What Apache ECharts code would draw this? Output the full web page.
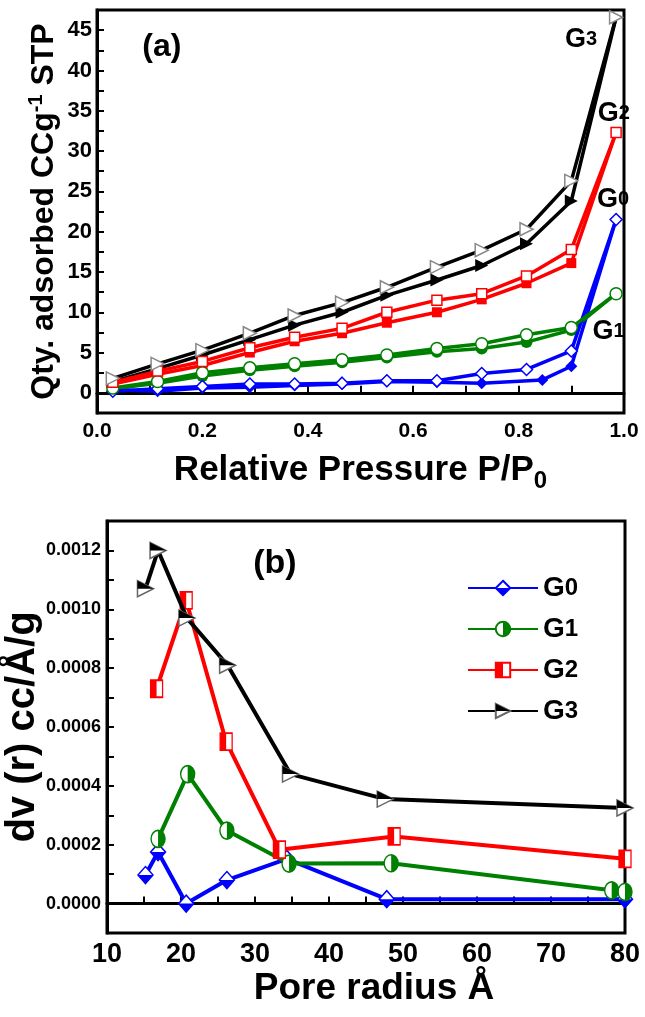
<!DOCTYPE html>
<html><head><meta charset="utf-8">
<script src="https://cdn.jsdelivr.net/npm/echarts@6/dist/echarts.min.js"></script>
<style>html,body{margin:0;padding:0;background:#fff}#c{width:645px;height:1017px}</style>
</head><body><div id="c"></div>
<script>
// ---------- (a) isotherms ----------
const pressure   = [0.03,0.115,0.2,0.29,0.375,0.465,0.55,0.645,0.73,0.815,0.9,0.985];
const pressureG0 = [0.03,0.115,0.2,0.29,0.375,0.465,0.55,0.645,0.73,0.845,0.9,0.985];
const g0Ads = [0.4,0.2,0.6,0.7,0.9,1.1,1.4,1.3,1.2,1.6,3.3,21.5];
const g0Des = [0.2,0.5,0.8,1.1,1.1,1.2,1.5,1.5,2.4,2.9,5.2,21.5];
const g1Ads = [0.5,1.2,2.1,2.8,3.3,3.8,4.4,5.1,5.5,6.3,7.8,12.3];
const g1Des = [0.6,1.4,2.5,3.1,3.6,4.1,4.7,5.5,6.1,7.2,8.1,12.3];
const g2Ads = [1.1,2.3,3.4,5.0,6.4,7.4,8.7,10.0,11.6,13.6,16.1,32.3];
const g2Des = [1.3,2.7,3.9,5.6,6.9,8.0,10.0,11.5,12.3,14.5,17.8,32.3];
const g3Ads = [1.4,3.0,4.7,6.6,8.4,10.0,12.1,14.0,15.8,18.5,23.8,46.6];
const g3Des = [1.8,3.6,5.3,7.4,9.6,11.2,13.1,15.6,17.7,20.3,26.3,46.6];

// ---------- (b) pore size distribution ----------
const g0Radius = [15.2,16.9,20.7,26.2,34.3,47.8,80];
const g0Dv     = [0.000097,0.000175,0.0,0.00008,0.000152,0.000015,0.000015];
const g1Radius = [16.9,20.9,26.2,34.6,48.4,78.2,80];
const g1Dv     = [0.00022,0.00044,0.000248,0.000136,0.000137,0.000045,0.00004];
const g2Radius = [16.7,20.7,26.1,33.3,48.8,80];
const g2Dv     = [0.00073,0.00103,0.00055,0.000183,0.000228,0.000152];
const g3Radius = [15.2,16.9,20.8,26.3,34.8,47.6,80];
const g3Dv     = [0.00107,0.0012,0.00097,0.00081,0.00044,0.000355,0.000325];

const seriesNames = ['G0','G1','G2','G3'];
const topLabels = [
  {t:'(a)', x:0.123, y:42.9},
  {t:'G3', x:0.888, y:43.8},
  {t:'G2', x:0.95,  y:34.7},
  {t:'G0', x:0.949, y:24.0},
  {t:'G1', x:0.94,  y:7.6}
];

const FONT = '"Liberation Sans", Arial, sans-serif';
const COLORS = ['#0000ff','#008000','#ff0000','#000000'];
const zip = (xs, ys) => xs.map((x,i)=>[x, ys[i]]);

const TRI = 'path://M0,0L2,1L0,2Z';
const DIA = 'path://M1,0L2,1L1,2L0,1Z';
const SQR = 'path://M0,0L2,0L2,2L0,2Z';
const CIR = 'path://M1,0C1.5523,0 2,0.4477 2,1C2,1.5523 1.5523,2 1,2C0.4477,2 0,1.5523 0,1C0,0.4477 0.4477,0 1,0Z';
// half-filled shapes (degenerate segment keeps the full bounding box)
const DIA_H = 'path://M1,0L1,0M0,1L2,1L1,2Z';
const CIR_H = 'path://M0,1L0,1M1,0C1.5523,0 2,0.4477 2,1C2,1.5523 1.5523,2 1,2Z';
const SQR_H = 'path://M2,1L2,1M0,0L1,0L1,2L0,2Z';
const TRI_H = 'path://M0,2L0,2M0,0L2,1L0,1Z';

const topSym = ['diamond','circle','rect',TRI];
const topSize = [12,12,10,13];
const topData = [
  [zip(pressureG0,g0Ads), zip(pressure,g0Des)],
  [zip(pressure,g1Ads), zip(pressure,g1Des)],
  [zip(pressure,g2Ads), zip(pressure,g2Des)],
  [zip(pressure,g3Ads), zip(pressure,g3Des)]
];
const botData = [zip(g0Radius,g0Dv), zip(g1Radius,g1Dv), zip(g2Radius,g2Dv), zip(g3Radius,g3Dv)];
const botSym = [DIA, CIR, SQR, TRI];
const botHalf = [DIA_H, CIR_H, SQR_H, TRI_H];
const botSize = [[15,17],[14,17],[12,17],[16,16]];
const openBorder = ['#0000ff','#008000','#ff0000','#666666'];

const series = [];
topData.forEach((pair,k)=>{
  series.push({
    name: seriesNames[k]+' adsorption', type:'line', xAxisIndex:0, yAxisIndex:0,
    data: pair[0], symbol: topSym[k], symbolSize: topSize[k], z: 3,
    lineStyle:{color:COLORS[k], width:3.5}, itemStyle:{color:COLORS[k]}
  });
  series.push({
    name: seriesNames[k]+' desorption', type:'line', xAxisIndex:0, yAxisIndex:0,
    data: pair[1], symbol: topSym[k], symbolSize: topSize[k], z: 4,
    lineStyle:{color:COLORS[k], width:3.5},
    itemStyle:{color:'#fff', borderColor: k===3 ? '#888' : COLORS[k], borderWidth:1.5}
  });
});
botData.forEach((d,k)=>{
  series.push({
    name: seriesNames[k], type:'line', xAxisIndex:1, yAxisIndex:1,
    data: d, symbol: botSym[k], symbolSize: botSize[k], z: 3 + k,
    lineStyle:{color:COLORS[k], width:4},
    itemStyle:{color:'#fff', borderColor: openBorder[k], borderWidth:1.5}
  });
  series.push({
    name: seriesNames[k]+'h', type:'line', xAxisIndex:1, yAxisIndex:1,
    data: d, symbol: botHalf[k], symbolSize: botSize[k], z: 3 + k, silent:true,
    lineStyle:{color:COLORS[k], width:4, opacity:0},
    itemStyle:{color:COLORS[k]}
  });
});

const tickStyle = {show:true, inside:true, length:7, lineStyle:{color:'#000', width:2}};
const axisLine = {show:true, lineStyle:{color:'#000', width:3}};
const lblBase = {color:'#000', fontFamily:FONT, fontWeight:'bold'};

const legendRich = {
  g:{fontSize:28, fontFamily:FONT, fontWeight:'bold', color:'#000'},
  d:{fontSize:24, fontFamily:FONT, fontWeight:'bold', color:'#000'}
};
const legendRichClear = {
  g:{fontSize:28, fontFamily:FONT, fontWeight:'bold', color:'rgba(0,0,0,0)'},
  d:{fontSize:24, fontFamily:FONT, fontWeight:'bold', color:'rgba(0,0,0,0)'}
};
const legendBase = {orient:'vertical', left:462, top:569, itemWidth:70, itemHeight:18, itemGap:13,
  selectedMode:false, inactiveColor:'#000'};

const option = {
  animation:false,
  backgroundColor:'#fff',
  grid:[
    {left:97, right:21, top:10, height:403, show:true, borderColor:'#000', borderWidth:3, outerBoundsMode:'none', containLabel:false},
    {left:107, right:20, top:521, height:412, show:true, borderColor:'#000', borderWidth:3, outerBoundsMode:'none', containLabel:false}
  ],
  xAxis:[
    {type:'value', gridIndex:0, min:0, max:1.0, interval:0.1, nameMoveOverlap:false,
     axisLine, axisTick:tickStyle, splitLine:{show:false},
     axisLabel:{...lblBase, fontSize:21, margin:8,
       formatter:v=> (Math.round(v*10)%2===0) ? v.toFixed(1) : ''},
     name:'Relative Pressure P/P{s|0}', nameLocation:'middle', nameGap:34,
     nameTextStyle:{...lblBase, fontSize:35, rich:{s:{...lblBase, fontSize:24, padding:[22,0,0,0]}}}},
    {type:'value', gridIndex:1, min:10, max:80, interval:5, nameMoveOverlap:false,
     axisLine, axisTick:tickStyle, splitLine:{show:false},
     axisLabel:{...lblBase, fontSize:27, margin:8,
       formatter:v=> (Math.round(v)%10===0) ? String(Math.round(v)) : ''},
     name:'Pore radius Å', nameLocation:'middle', nameGap:37,
     nameTextStyle:{...lblBase, fontSize:37, verticalAlign:'top', padding:[0,0,0,16]}}
  ],
  yAxis:[
    {type:'value', gridIndex:0, min:-2.5, max:47.5, interval:2.5, nameMoveOverlap:false,
     axisLine, axisTick:tickStyle, splitLine:{show:false},
     axisLabel:{...lblBase, fontSize:22, margin:5,
       formatter:v=> { const k=Math.round(v/2.5); return (k%2===0 && k>=0) ? String(k*2.5) : ''; }},
     name:'Qty. adsorbed CCg{p|-1} STP', nameLocation:'middle', nameGap:35, nameRotate:90,
     nameTextStyle:{...lblBase, fontSize:32, rich:{p:{...lblBase, fontSize:20, padding:[0,0,16,0]}}}},
    {type:'value', gridIndex:1, min:-0.0001, max:0.0013, interval:0.0001, nameMoveOverlap:false,
     axisLine, axisTick:tickStyle, splitLine:{show:false},
     axisLabel:{...lblBase, fontSize:18, margin:6,
       formatter:v=> { const k=Math.round(v/0.0001); return (k%2===0 && k>=0) ? (k*0.0001).toFixed(4) : ''; }},
     name:'dv (r) cc/Å/g', nameLocation:'middle', nameGap:64, nameRotate:90,
     nameTextStyle:{...lblBase, fontSize:40}}
  ],
  legend:[
    {...legendBase, data:seriesNames,
     formatter:n=>'{g|G}{d|'+n.slice(1,2)+'}', textStyle:{rich:legendRich}},
    {...legendBase, data:seriesNames.map(n=>n+'h'),
     formatter:n=>'{g|G}{d|'+n.slice(1,2)+'}', textStyle:{rich:legendRichClear}}
  ],
  series
};

const chart = echarts.init(document.getElementById('c'), null, {renderer:'canvas'});
chart.setOption(option);

const gRich = {
  g:{fontSize:27, fontFamily:FONT, fontWeight:'bold', fill:'#000'},
  d:{fontSize:20, fontFamily:FONT, fontWeight:'bold', fill:'#000'}
};
const graphics = topLabels.map(l=>{
  const p = chart.convertToPixel({xAxisIndex:0, yAxisIndex:0}, [l.x, l.y]);
  if (l.t.startsWith('(')) {
    return {type:'text', x:p[0], y:p[1], z:50,
      style:{text:l.t, fill:'#000', font:'bold 32px '+FONT, align:'center', verticalAlign:'middle'}};
  }
  return {type:'text', x:p[0], y:p[1], z:50,
    style:{text:'{g|G}{d|'+l.t.slice(1)+'}', rich:gRich, align:'left', verticalAlign:'middle'}};
});
const pb = chart.convertToPixel({xAxisIndex:1, yAxisIndex:1}, [32.7, 0.001155]);
graphics.push({type:'text', x:pb[0], y:pb[1], z:50,
  style:{text:'(b)', fill:'#000', font:'bold 34px '+FONT, align:'center', verticalAlign:'middle'}});
chart.setOption({graphic:graphics});
</script>
</body></html>
